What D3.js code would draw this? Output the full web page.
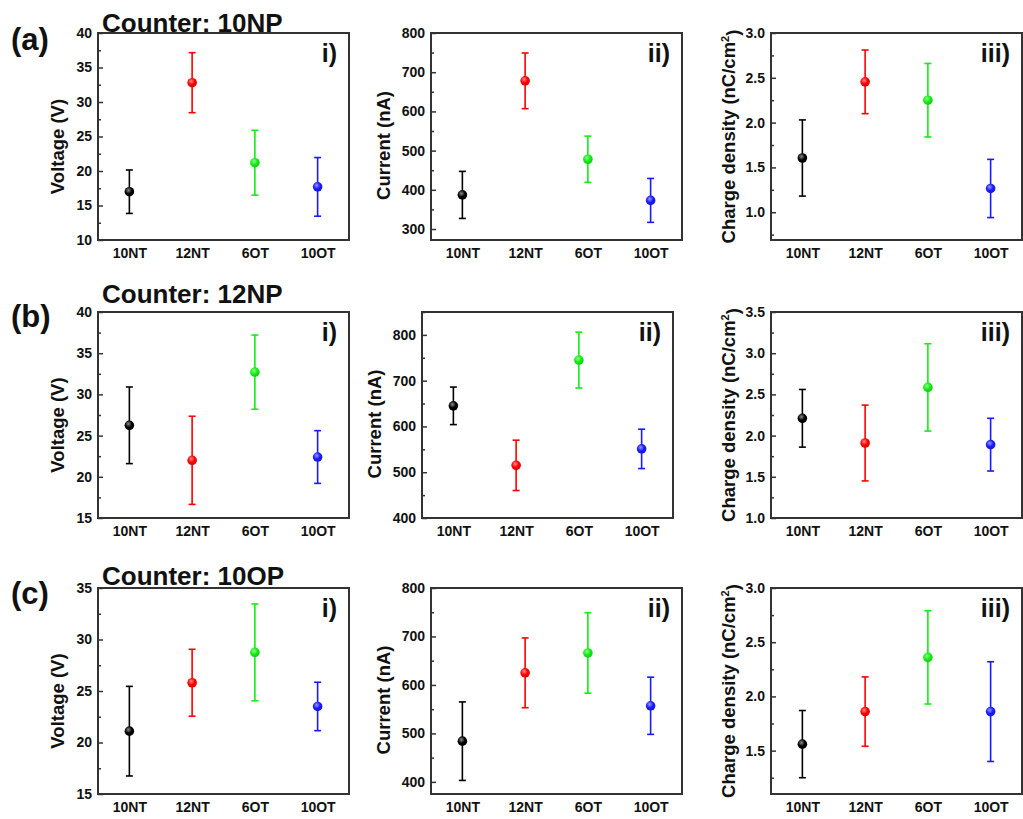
<!DOCTYPE html>
<html>
<head>
<meta charset="utf-8">
<script src="https://d3js.org/d3.v7.min.js"></script>
<style>
  body { margin: 0; background: #fff; }
  svg { display: block; font-family: "Liberation Sans", Arial, sans-serif; }
</style>
</head>
<body>
<div id="chart"></div>
<script>
// Counter electrode comparison: voltage, current and charge density per sample
const categories = ['10NT', '12NT', '6OT', '10OT'];
const pointColors = ['#000000', '#ff0000', '#11ee11', '#1a1aff'];

const rowLetters = ['(a)', '(b)', '(c)'];
const rowTitles = ['Counter: 10NP', 'Counter: 12NP', 'Counter: 10OP'];
const panelTags = ['i)', 'ii)', 'iii)'];
const axisTitles = ['Voltage (V)', 'Current (nA)', 'Charge density (nC/cm'];

// row (a) Counter: 10NP
const voltageA = [17.0, 32.8, 21.2, 17.7];
const voltageErrA = [3.15, 4.35, 4.7, 4.25];
const currentA = [387, 678, 478, 373];
const currentErrA = [60, 71, 59, 56];
const chargeA = [1.605, 2.455, 2.25, 1.265];
const chargeErrA = [0.425, 0.355, 0.41, 0.325];

// row (b) Counter: 12NP
const voltageB = [26.25, 22.0, 32.7, 22.4];
const voltageErrB = [4.65, 5.35, 4.5, 3.2];
const currentB = [645, 515, 745, 551];
const currentErrB = [41, 55, 61, 43];
const chargeB = [2.21, 1.91, 2.585, 1.89];
const chargeErrB = [0.35, 0.46, 0.53, 0.32];

// row (c) Counter: 10OP
const voltageC = [21.1, 25.8, 28.75, 23.5];
const voltageErrC = [4.35, 3.25, 4.7, 2.35];
const currentC = [484, 625, 666, 557];
const currentErrC = [81, 72, 83, 59];
const chargeC = [1.56, 1.86, 2.36, 1.86];
const chargeErrC = [0.31, 0.32, 0.43, 0.46];

// y axis ranges and tick steps
const yDomains = [
  [[10, 40], [272, 800], [0.69, 3.0]],
  [[15, 40], [400, 850], [1.0, 3.5]],
  [[15, 35], [375, 800], [1.1, 3.0]]
];
const yMajorTicks = [
  [[10, 15, 20, 25, 30, 35, 40], [300, 400, 500, 600, 700, 800], [1.0, 1.5, 2.0, 2.5, 3.0]],
  [[15, 20, 25, 30, 35, 40], [400, 500, 600, 700, 800], [1.0, 1.5, 2.0, 2.5, 3.0, 3.5]],
  [[15, 20, 25, 30, 35], [400, 500, 600, 700, 800], [1.5, 2.0, 2.5, 3.0]]
];
const yMinorTicks = [
  [[12.5, 17.5, 22.5, 27.5, 32.5, 37.5], [350, 450, 550, 650, 750], [0.75, 1.25, 1.75, 2.25, 2.75]],
  [[17.5, 22.5, 27.5, 32.5, 37.5], [450, 550, 650, 750, 850], [1.25, 1.75, 2.25, 2.75, 3.25]],
  [[17.5, 22.5, 27.5, 32.5], [450, 550, 650, 750], [1.25, 1.75, 2.25, 2.75]]
];
const tickFormats = [d3.format('d'), d3.format('d'), d3.format('.1f')];

const values = [
  [[voltageA, voltageErrA], [currentA, currentErrA], [chargeA, chargeErrA]],
  [[voltageB, voltageErrB], [currentB, currentErrB], [chargeB, chargeErrB]],
  [[voltageC, voltageErrC], [currentC, currentErrC], [chargeC, chargeErrC]]
];

// layout
const width = 1023, height = 819;
const rowTop = [33, 312, 588];
const rowBottom = [240, 518, 794];
const colLeft = [[98, 431, 771], [98, 422, 771], [98, 431, 771]];
const boxW = 251;
const titleOffset = [34, 41, 36];
const titleShift = [10, 9, 0];

const svg = d3.select('#chart').append('svg')
  .attr('width', width)
  .attr('height', height);

// shaded ball markers
const defs = svg.append('defs');
pointColors.forEach((c, i) => {
  const g = defs.append('radialGradient')
    .attr('id', 'ball' + i)
    .attr('cx', '40%').attr('cy', '35%').attr('r', '65%');
  g.append('stop').attr('offset', '0%').attr('stop-color', d3.interpolateRgb(c, '#ffffff')(0.55));
  g.append('stop').attr('offset', '55%').attr('stop-color', c);
  g.append('stop').attr('offset', '100%').attr('stop-color', d3.color(c).darker(0.4));
});

for (let r = 0; r < 3; r++) {
  const top = rowTop[r], bottom = rowBottom[r];

  svg.append('text')
    .attr('x', 11).attr('y', [50, 327, 604][r])
    .style('font-size', '31px').style('font-weight', 'bold').attr('fill', '#111')
    .text(rowLetters[r]);

  svg.append('text')
    .attr('x', 102).attr('y', [32, 303, 585][r])
    .style('font-size', '26px').style('font-weight', 'bold').attr('fill', '#111')
    .text(rowTitles[r]);

  for (let c = 0; c < 3; c++) {
    const left = colLeft[r][c];
    const x = d3.scaleLinear().domain([0.5, 4.5]).range([left, left + boxW]);
    const y = d3.scaleLinear().domain(yDomains[r][c]).range([bottom, top]);
    const [means, errs] = values[r][c];
    const g = svg.append('g');

    // minor ticks
    g.append('g')
      .attr('transform', `translate(${left},0)`)
      .call(d3.axisLeft(y).tickValues(yMinorTicks[r][c].filter(v => v <= yDomains[r][c][1]))
        .tickSize(-3).tickFormat(''))
      .call(a => a.select('.domain').remove())
      .selectAll('line').attr('stroke', '#333').attr('stroke-width', 1.5);

    // major ticks with labels
    const ax = g.append('g')
      .attr('transform', `translate(${left},0)`)
      .call(d3.axisLeft(y).tickValues(yMajorTicks[r][c])
        .tickSizeInner(-5).tickSizeOuter(0).tickPadding(6).tickFormat(tickFormats[c]));
    ax.select('.domain').remove();
    ax.selectAll('line').attr('stroke', '#333').attr('stroke-width', 1.5);
    ax.selectAll('text')
      .attr('x', -6)
      .style('font-size', '14px').style('font-weight', 'bold')
      .style('font-family', '"Liberation Sans", Arial, sans-serif')
      .attr('fill', '#111');

    // category labels
    const bx = g.append('g')
      .attr('transform', `translate(0,${bottom})`)
      .call(d3.axisBottom(x).tickValues([1, 2, 3, 4]).tickSize(0).tickPadding(8)
        .tickFormat(d => categories[d - 1]));
    bx.select('.domain').remove();
    bx.selectAll('text')
      .style('font-size', '14px').style('font-weight', 'bold')
      .style('font-family', '"Liberation Sans", Arial, sans-serif')
      .attr('fill', '#111');

    // frame
    g.append('rect')
      .attr('x', left).attr('y', top)
      .attr('width', boxW).attr('height', bottom - top)
      .attr('fill', 'none').attr('stroke', '#333').attr('stroke-width', 2);

    // error bars
    const pts = categories.map((name, i) => ({ i: i + 1, m: means[i], e: errs[i], color: pointColors[i], k: i }));
    const eb = g.selectAll('.eb').data(pts).join('g').attr('class', 'eb')
      .attr('stroke', d => d.color).attr('stroke-width', 1.6);
    eb.append('line')
      .attr('x1', d => x(d.i)).attr('x2', d => x(d.i))
      .attr('y1', d => y(d.m - d.e)).attr('y2', d => y(d.m + d.e));
    eb.append('line')
      .attr('x1', d => x(d.i) - 3.5).attr('x2', d => x(d.i) + 3.5)
      .attr('y1', d => y(d.m + d.e)).attr('y2', d => y(d.m + d.e));
    eb.append('line')
      .attr('x1', d => x(d.i) - 3.5).attr('x2', d => x(d.i) + 3.5)
      .attr('y1', d => y(d.m - d.e)).attr('y2', d => y(d.m - d.e));

    g.selectAll('.pt').data(pts).join('circle').attr('class', 'pt')
      .attr('cx', d => x(d.i)).attr('cy', d => y(d.m))
      .attr('r', 4.8)
      .attr('fill', d => `url(#ball${d.k})`);

    // panel tag
    g.append('text')
      .attr('x', left + boxW - 12).attr('y', top + 29)
      .attr('text-anchor', 'end')
      .style('font-size', '25px').style('font-weight', 'bold').attr('fill', '#111')
      .text(panelTags[c]);

    // y title
    const cy = (top + bottom) / 2 + titleShift[c];
    const t = g.append('text')
      .attr('transform', `translate(${left - titleOffset[c]},${cy}) rotate(-90)`)
      .attr('text-anchor', 'middle')
      .style('font-size', '18.5px').style('font-weight', 'bold').attr('fill', '#111')
      .text(axisTitles[c]);
    if (c === 2) {
      t.append('tspan').attr('dy', '-0.55em').style('font-size', '11px').text('2');
      t.append('tspan').attr('dy', '0.55em').text(')');
    }
  }
}
</script>
</body>
</html>
